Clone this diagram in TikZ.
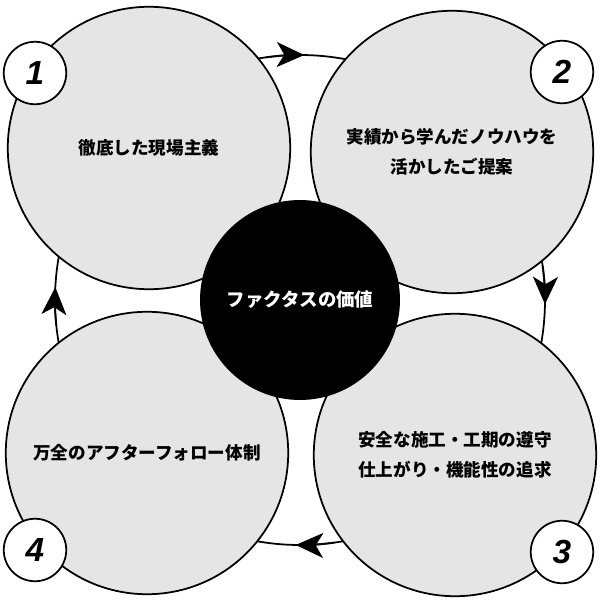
\documentclass[tikz,border=0pt]{standalone}
\usepackage{fontspec}
\setmainfont{Noto Sans CJK JP}
\newfontfamily\numfont{Liberation Sans}
\usetikzlibrary{arrows.meta}
\begin{document}
\begin{tikzpicture}[x=0.02cm,y=0.02cm,line width=1pt,
  big node/.style={circle,draw=black,fill=gray!20,minimum size=5.65cm,align=center,
    font=\fontsize{10}{17}\selectfont\bfseries},
  core node/.style={circle,fill=black,text=white,minimum size=4cm,
    font=\fontsize{10.5}{14}\selectfont\bfseries},
  num node/.style={circle,draw=black,fill=white,minimum size=1.25cm,
    font=\numfont\fontsize{19}{19}\selectfont\bfseries\itshape},
  flow/.style={-{Stealth[length=0.55cm,width=0.5cm,inset=0.15cm]},line width=1pt}]

  \useasboundingbox (0,0) rectangle (600,600);

  \draw (300,300) circle (245);

  \node[big node] (1) at (149,452) {徹底した現場主義};
  \node[big node] (2) at (452,448) {実績から学んだノウハウを\\活かしたご提案};
  \node[big node] (3) at (455,145) {安全な施工・工期の遵守\\仕上がり・機能性の追求};
  \node[big node] (4) at (147,147) {万全のアフターフォロー体制};
  \node[core node] (core) at (300,300) {ファクタスの価値};

  % arrows on the ring
  \draw[flow] (300,300) ++(98:245) arc (98:89:245);
  \draw[flow] (300,300) ++(8:245) arc (8:-1:245);
  \draw[flow] (300,300) ++(-82:245) arc (-82:-91:245);
  \draw[flow] (300,300) ++(-174:245) arc (-174:-183:245);

  \node[num node] (n1) at (35,527) {1};
  \node[num node] (n2) at (562,528) {2};
  \node[num node] (n3) at (562,48) {3};
  \node[num node] (n4) at (35,50) {4};
\end{tikzpicture}
\end{document}
